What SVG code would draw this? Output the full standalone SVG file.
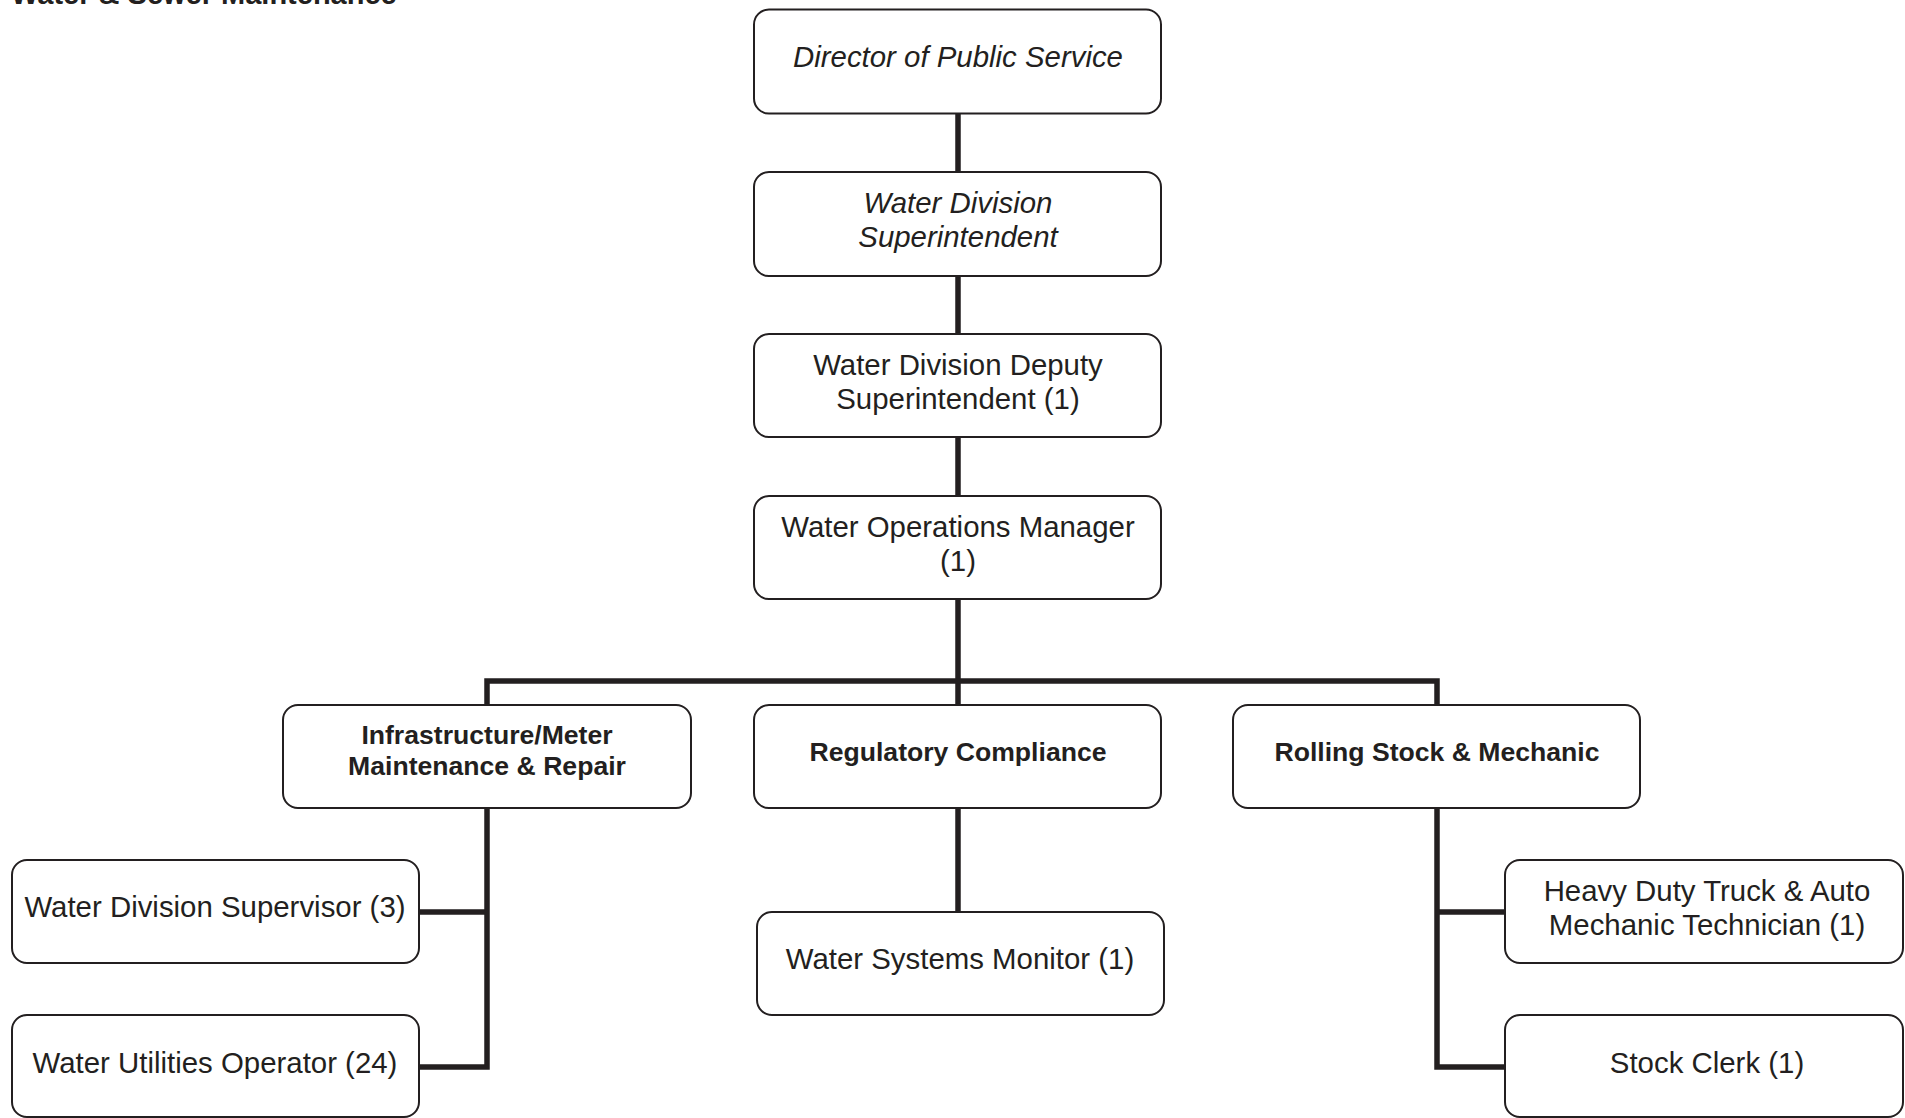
<svg xmlns="http://www.w3.org/2000/svg" width="1905" height="1118" viewBox="0 0 1905 1118">
<style>
.box{fill:#fff;stroke:#231f20;stroke-width:2}
.t{font-family:"Liberation Sans",Arial,sans-serif;font-size:29.4px;fill:#231f20;text-anchor:middle}
.i{font-style:italic}
.b{font-weight:bold;font-size:26.6px}
.con{fill:none;stroke:#231f20;stroke-width:5.5;stroke-linejoin:miter;stroke-linecap:butt}
.title{font-family:"Liberation Sans",Arial,sans-serif;font-size:29px;font-weight:bold;fill:#231f20}
</style>
<rect width="1905" height="1118" fill="#fff"/>
<text class="title" x="11" y="4">Water &amp; Sewer Maintenance</text>
<g id="connectors">
<path class="con" d="M958 113V172M958 276V334M958 437V496M958 599V705"/>
<path class="con" d="M487 705V681H1437V705"/>
<path class="con" d="M958 808V912"/>
<path class="con" d="M487 808V1067H419M487 912H419"/>
<path class="con" d="M1437 808V1067H1505M1437 912H1505"/>
</g>
<g id="director"><rect class="box" x="754" y="9.5" width="407" height="104" rx="15"/><text class="t i" x="958" y="67">Director of Public Service</text></g>
<g id="superintendent"><rect class="box" x="754" y="172" width="407" height="104" rx="15"/><text class="t i" x="958" y="213">Water Division</text><text class="t i" x="958" y="247">Superintendent</text></g>
<g id="deputy"><rect class="box" x="754" y="334" width="407" height="103" rx="15"/><text class="t" x="958" y="375">Water Division Deputy</text><text class="t" x="958" y="409">Superintendent (1)</text></g>
<g id="opsmanager"><rect class="box" x="754" y="496" width="407" height="103" rx="15"/><text class="t" x="958" y="537">Water Operations Manager</text><text class="t" x="958" y="571">(1)</text></g>
<g id="infrastructure"><rect class="box" x="283" y="705" width="408" height="103" rx="15"/><text class="t b" x="487" y="743.5">Infrastructure/Meter</text><text class="t b" x="487" y="775">Maintenance &amp; Repair</text></g>
<g id="regulatory"><rect class="box" x="754" y="705" width="407" height="103" rx="15"/><text class="t b" x="958" y="760.5">Regulatory Compliance</text></g>
<g id="rolling"><rect class="box" x="1233" y="705" width="407" height="103" rx="15"/><text class="t b" x="1437" y="760.5">Rolling Stock &amp; Mechanic</text></g>
<g id="supervisor"><rect class="box" x="12" y="860" width="407" height="103" rx="15"/><text class="t" x="215" y="916.5">Water Division Supervisor (3)</text></g>
<g id="operator"><rect class="box" x="12" y="1015" width="407" height="102" rx="15"/><text class="t" x="215" y="1072.5">Water Utilities Operator (24)</text></g>
<g id="monitor"><rect class="box" x="757" y="912" width="407" height="103" rx="15"/><text class="t" x="960" y="969">Water Systems Monitor (1)</text></g>
<g id="mechanic"><rect class="box" x="1505" y="860" width="398" height="103" rx="15"/><text class="t" x="1707" y="901">Heavy Duty Truck &amp; Auto</text><text class="t" x="1707" y="935">Mechanic Technician (1)</text></g>
<g id="clerk"><rect class="box" x="1505" y="1015" width="398" height="102" rx="15"/><text class="t" x="1707" y="1072.5">Stock Clerk (1)</text></g>
</svg>
